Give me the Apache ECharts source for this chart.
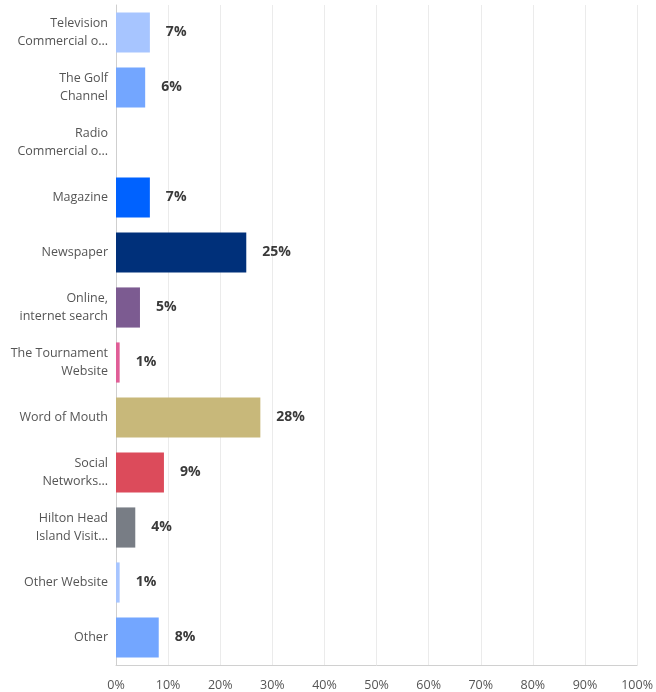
<!DOCTYPE html>
<html>
<head>
<meta charset="utf-8">
<script src="https://cdn.jsdelivr.net/npm/echarts@6/dist/echarts.min.js"></script>
<style>html,body{margin:0;padding:0;background:#fff}#c{width:656px;height:692px}</style>
</head>
<body>
<div id="c"></div>
<script>
var categories = [
  "Television\nCommercial o...",
  "The Golf\nChannel",
  "Radio\nCommercial o...",
  "Magazine",
  "Newspaper",
  "Online,\ninternet search",
  "The Tournament\nWebsite",
  "Word of Mouth",
  "Social\nNetworks...",
  "Hilton Head\nIsland Visit...",
  "Other Website",
  "Other"
];
var values = [6.5, 5.6, 0, 6.5, 25.0, 4.6, 0.7, 27.7, 9.2, 3.7, 0.7, 8.2];
var colors = ["#a7c5ff", "#73a6ff", "#cccccc", "#0062ff", "#00307a", "#7c5b91", "#e05e97", "#c8b87a", "#dc4b5b", "#787d85", "#a7c5ff", "#73a6ff"];
var xTicks = ["0%", "10%", "20%", "30%", "40%", "50%", "60%", "70%", "80%", "90%", "100%"];

var chart = echarts.init(document.getElementById('c'));
chart.setOption({
  animation: false,
  grid: { left: 116, right: 14, top: 5, bottom: 27, containLabel: false },
  xAxis: {
    type: 'value', min: 0, max: 100, interval: 10,
    axisLine: { show: true, lineStyle: { color: '#d0d0d0' } },
    axisTick: { show: false },
    splitLine: { show: true, lineStyle: { color: '#ebebeb' } },
    axisLabel: {
      margin: 14, color: '#555', fontSize: 12.5, fontFamily: 'Open Sans',
      formatter: function (v) { return xTicks[Math.round(v / 10)]; }
    }
  },
  yAxis: {
    type: 'category', inverse: true, data: categories,
    axisLine: { show: true, lineStyle: { color: '#cfcfcf' } },
    axisTick: { show: false },
    axisLabel: { margin: 8, color: '#555', fontSize: 12.5, lineHeight: 18, fontFamily: 'Open Sans', align: 'right' }
  },
  series: [{
    type: 'bar',
    barCategoryGap: '27%',
    data: values.map(function (v, i) { return { value: v, itemStyle: { color: colors[i] } }; }),
    label: {
      show: true, position: 'right', distance: 16,
      color: '#3a3a3a', fontSize: 14, fontWeight: 'bold', fontFamily: 'Open Sans',
      formatter: function (p) { return p.value > 0 ? Math.round(p.value) + '%' : ''; }
    }
  }]
});
</script>
</body>
</html>
